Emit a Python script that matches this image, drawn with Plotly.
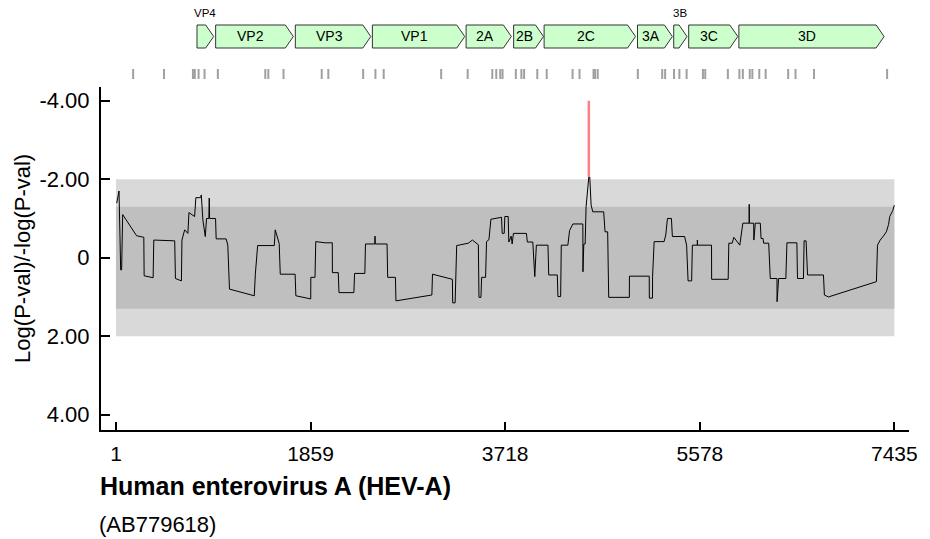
import plotly.graph_objects as go

# ---------------- data ----------------
positions = [
    8, 30, 46, 55, 65, 198, 267, 270, 356, 362,
    562, 569, 626, 631, 657, 688, 698, 752, 764, 809,
    816, 831, 854, 866, 888, 892, 895, 952, 958, 1053,
    1069, 1085, 1322, 1332, 1354, 1513, 1522, 1560, 1570, 1712,
    1719, 1861, 1862, 1902, 1909, 1997, 2067, 2068, 2124, 2131,
    2273, 2280, 2378, 2384, 2473, 2475, 2478, 2590, 2596, 2670,
    2675, 3018, 3024, 3214, 3217, 3240, 3255, 3366, 3405, 3462,
    3468, 3487, 3493, 3531, 3540, 3563, 3582, 3683, 3690, 3709,
    3715, 3747, 3753, 3775, 3785, 3797, 3921, 3930, 3982, 4001,
    4016, 4127, 4134, 4216, 4222, 4248, 4254, 4317, 4333, 4365,
    4460, 4461, 4469, 4482, 4491, 4517, 4526, 4539, 4555, 4659,
    4672, 4697, 4707, 4904, 4905, 5094, 5095, 5125, 5126, 5141,
    5236, 5252, 5268, 5306, 5315, 5432, 5451, 5465, 5499, 5506,
    5553, 5554, 5555, 5689, 5690, 5848, 5854, 5886, 5902, 5959,
    5988, 6048, 6049, 6050, 6092, 6093, 6107, 6155, 6162, 6181,
    6187, 6235, 6250, 6314, 6315, 6330, 6399, 6409, 6504, 6510,
    6567, 6573, 6592, 6606, 6758, 6767, 6805, 7264, 7274, 7300,
    7330, 7359, 7380, 7391, 7420, 7435,
]
scores = [
    -1.39, -1.70, 0.31, 0.31, -1.10, -0.56, -0.52, 0.46, 0.51, -0.45,
    -0.43, 0.53, 0.59, -0.45, -0.71, -0.62, -1.15, -1.05, -1.53, -1.53,
    -1.60, -0.96, -0.54, -1.00, -1.00, -1.52, -1.00, -1.00, -0.48, -0.48,
    -0.32, 0.80, 0.97, 0.42, -0.31, -0.31, -0.71, -0.36, 0.42, 0.42,
    0.97, 1.05, 0.50, 0.50, -0.41, -0.38, -0.38, 0.38, 0.38, 0.89,
    0.89, 0.40, 0.40, -0.35, -0.35, -0.55, -0.35, -0.35, 0.50, 0.50,
    1.10, 0.95, 0.42, 0.55, 1.15, 1.15, -0.31, -0.37, -0.45, -0.33,
    1.01, 1.01, 0.50, 0.50, -0.41, -0.46, -0.98, -1.03, -0.62, -0.62,
    -1.05, -1.05, -0.40, -0.55, -0.35, -0.62, -0.62, -0.40, -0.40, 0.48,
    -0.32, -0.32, 0.44, 0.44, 0.99, 0.99, -0.32, -0.32, -0.69, -0.86,
    -0.86, 0.36, -0.35, -0.35, -1.30, -2.06, -2.06, -1.34, -1.17, -1.17,
    -0.66, -0.66, 1.01, 1.01, 0.47, 0.47, 1.03, 1.03, 0.47, -0.41,
    -0.41, -0.58, -1.00, -1.00, -0.54, -0.54, -0.32, 0.59, 0.59, -0.32,
    -0.32, -0.45, -0.32, -0.32, 0.55, 0.55, -0.37, -0.37, -0.52, -0.32,
    -0.88, -0.88, -1.36, -0.88, -0.88, -0.45, -0.88, -0.88, -0.49, -0.49,
    -0.37, -0.37, 0.53, 0.53, 1.12, 0.53, 0.53, -0.38, -0.38, 0.53,
    0.53, -0.43, -0.43, 0.44, 0.44, 0.95, 1.00, 0.61, -0.32, -0.45,
    -0.55, -0.66, -0.85, -1.05, -1.20, -1.34,
]

signal_pos = [4517]
signal_from = [-4.0]
signal_to = [-2.06]

gene_names = ["VP4", "VP2", "VP3", "VP1", "2A", "2B", "2C", "3A", "3B", "3C", "3D"]
gene_starts = [775, 953, 1714, 2450, 3345, 3799, 4090, 4982, 5328, 5471, 5950]
gene_ends = [934, 1695, 2435, 3332, 3777, 4084, 4963, 5315, 5455, 5940, 7337]

site_pos = [
    165, 460, 736, 754, 790, 847, 974, 1427, 1456, 1601,
    1966, 2029, 2362, 2479, 2558, 3107, 3360, 3595, 3633, 3671,
    3693, 3820, 3873, 3899, 4025, 4115, 4362, 4428, 4562, 4577,
    4602, 4985, 5218, 5246, 5331, 5382, 5451, 5607, 5629, 5845,
    5955, 5988, 6054, 6079, 6145, 6206, 6421, 6491, 6668, 7366,
]

x_tick_vals = [1, 1859, 3718, 5578, 7435]
y_tick_vals = [-4, -2, 0, 2, 4]
y_tick_text = ["-4.00", "-2.00", "0", "2.00", "4.00"]
outer_band = 2.0
inner_band = 1.3

title_text = "Human enterovirus A (HEV-A)"
subtitle_text = "(AB779618)"
y_title_text = "Log(P-val)/-log(P-val)"

# ---------------- layout helpers ----------------
W, H = 930, 539
ML, MR, MT, MB = 101, 17, 87, 109
PW, PH = W - ML - MR, H - MT - MB
FONT = "Liberation Sans, Arial, Helvetica, sans-serif"


def py_to_paper(py):
    return (H - MB - py) / PH


def px_to_paper(px):
    return (px - ML) / PW


x_range = [-142, 7575]
y_range = [4.39, -4.35]
tip = 76  # arrow head length in sequence units

fig = go.Figure()

shapes = []
# significance bands
shapes.append(dict(type="rect", xref="x", yref="y", x0=x_tick_vals[0], x1=x_tick_vals[-1],
                   y0=-outer_band, y1=outer_band, fillcolor="#d9d9d9", line=dict(width=0), layer="below"))
shapes.append(dict(type="rect", xref="x", yref="y", x0=x_tick_vals[0], x1=x_tick_vals[-1],
                   y0=-inner_band, y1=inner_band, fillcolor="#bfbfbf", line=dict(width=0), layer="below"))

# gene arrows
g_top, g_bot = py_to_paper(25), py_to_paper(48)
g_mid = (g_top + g_bot) / 2
annotations = []
for name, s, e in zip(gene_names, gene_starts, gene_ends):
    body_end = max(s, e - tip)
    path = (f"M {s},{g_bot} L {body_end},{g_bot} L {e},{g_mid} "
            f"L {body_end},{g_top} L {s},{g_top} Z")
    shapes.append(dict(type="path", xref="x", yref="paper", path=path,
                       fillcolor="#ccffcc", line=dict(color="#333333", width=1)))
    if e - s < 200:
        annotations.append(dict(x=(s + e) / 2, y=py_to_paper(13), xref="x", yref="paper",
                                text=name, showarrow=False, xanchor="center", yanchor="middle",
                                font=dict(size=11.5, color="black", family=FONT)))
    else:
        annotations.append(dict(x=(s + body_end) / 2, y=g_mid, xref="x", yref="paper",
                                text=name, showarrow=False, xanchor="center", yanchor="middle",
                                font=dict(size=14, color="black", family=FONT)))

# site ticks
for p in site_pos:
    shapes.append(dict(type="line", xref="x", yref="paper", x0=p, x1=p,
                       y0=py_to_paper(79), y1=py_to_paper(69),
                       line=dict(color="#a0a0a0", width=2)))

# score line
fig.add_trace(go.Scatter(x=positions, y=scores, mode="lines",
                         line=dict(color="black", width=1), showlegend=False,
                         hoverinfo="skip"))

# significant signal marker
for p, a, b in zip(signal_pos, signal_from, signal_to):
    fig.add_trace(go.Scatter(x=[p, p], y=[a, b], mode="lines",
                             line=dict(color="#ff8080", width=2.5), showlegend=False,
                             hoverinfo="skip"))

# titles
annotations.append(dict(x=px_to_paper(22), y=0.5, xref="paper", yref="paper",
                        text=y_title_text, textangle=-90, showarrow=False,
                        xanchor="center", yanchor="middle",
                        font=dict(size=22, color="black", family=FONT)))
annotations.append(dict(x=px_to_paper(98), y=py_to_paper(486), xref="paper", yref="paper",
                        text=f"<b>{title_text}</b>", showarrow=False,
                        xanchor="left", yanchor="middle",
                        font=dict(size=25, color="black", family=FONT)))
annotations.append(dict(x=px_to_paper(97), y=py_to_paper(524), xref="paper", yref="paper",
                        text=subtitle_text, showarrow=False,
                        xanchor="left", yanchor="middle",
                        font=dict(size=22, color="black", family=FONT)))

fig.update_layout(
    width=W, height=H,
    margin=dict(l=ML, r=MR, t=MT, b=MB, pad=0),
    paper_bgcolor="white", plot_bgcolor="white",
    shapes=shapes, annotations=annotations,
    showlegend=False,
    xaxis=dict(range=x_range, tickvals=x_tick_vals, ticktext=[str(v) for v in x_tick_vals],
               showgrid=False, zeroline=False, showline=True, linecolor="black", linewidth=2,
               ticks="inside", ticklen=8, tickwidth=1.5, tickcolor="black",
               tickfont=dict(size=21, color="black", family=FONT), ticklabelstandoff=4),
    yaxis=dict(range=y_range, tickvals=y_tick_vals, ticktext=y_tick_text,
               showgrid=False, zeroline=False, showline=True, linecolor="black", linewidth=2,
               ticks="inside", ticklen=9, tickwidth=1.5, tickcolor="black",
               tickfont=dict(size=22, color="black", family=FONT), ticklabelstandoff=5),
)

fig.write_html("out.html")
